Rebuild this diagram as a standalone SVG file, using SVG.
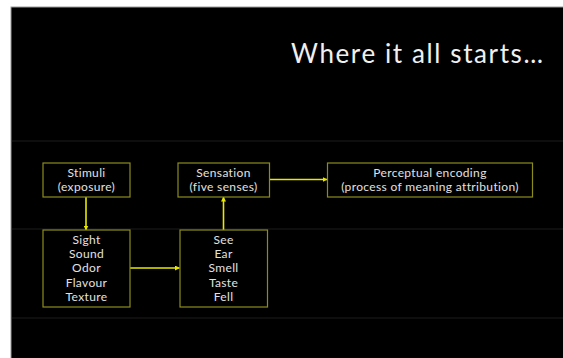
<svg xmlns="http://www.w3.org/2000/svg" width="563" height="358" viewBox="0 0 563 358">
<style>
.box{fill:#000;stroke:#8c8c1e;stroke-width:1.2}
.t{font-family:Lato,"Open Sans",sans-serif;font-size:12px;letter-spacing:0.35px;fill:#e2e2e2;text-anchor:middle}
.c{stroke:#e8e800;stroke-width:1.6;fill:none;marker-end:url(#ah)}
.sep{stroke:#1c1c1c;stroke-width:1}
</style>
<defs>
<marker id="ah" viewBox="0 0 10 10" refX="9" refY="5" markerWidth="5" markerHeight="5" orient="auto" markerUnits="userSpaceOnUse">
<path d="M0,0 L10,5 L0,10 z" fill="#e8e800"/>
</marker>
</defs>
<rect width="563" height="358" fill="#fff"/>
<rect x="11" y="7" width="553" height="352" fill="#000" stroke="#9a9a9a" stroke-width="1"/>
<line class="sep" x1="12" y1="141" x2="563" y2="141"/>
<line class="sep" x1="12" y1="229" x2="563" y2="229"/>
<line class="sep" x1="12" y1="318" x2="563" y2="318"/>
<text x="291" y="63" font-family="Lato,'Open Sans',sans-serif" font-size="26" fill="#f0f0f0" textLength="252" lengthAdjust="spacing">Where it all starts…</text>
<g id="connectors">
<line class="c" x1="86" y1="197" x2="86" y2="230"/>
<line class="c" x1="130" y1="268" x2="179.5" y2="268"/>
<line class="c" x1="223.5" y1="230" x2="223.5" y2="197"/>
<line class="c" x1="269.5" y1="179.5" x2="327" y2="179.5"/>
</g>
<g id="stimuli">
<rect class="box" x="43" y="163" width="87" height="34"/>
<text class="t" x="86.5" y="176.5">Stimuli</text>
<text class="t" x="86.5" y="190.5">(exposure)</text>
</g>
<g id="modalities">
<rect class="box" x="43" y="230" width="87" height="77"/>
<text class="t" x="86.5" y="244">Sight</text>
<text class="t" x="86.5" y="258.3">Sound</text>
<text class="t" x="86.5" y="272.3">Odor</text>
<text class="t" x="86.5" y="286.6">Flavour</text>
<text class="t" x="86.5" y="300.6">Texture</text>
</g>
<g id="senses">
<rect class="box" x="180" y="230" width="87.5" height="77"/>
<text class="t" x="223.5" y="244">See</text>
<text class="t" x="223.5" y="258.3">Ear</text>
<text class="t" x="223.5" y="272.3">Smell</text>
<text class="t" x="223.5" y="286.6">Taste</text>
<text class="t" x="223.5" y="300.6">Fell</text>
</g>
<g id="sensation">
<rect class="box" x="178" y="163" width="91.5" height="34"/>
<text class="t" x="223.5" y="176.5">Sensation</text>
<text class="t" x="223.5" y="190.5">(five senses)</text>
</g>
<g id="perceptual">
<rect class="box" x="327.5" y="163" width="205" height="34"/>
<text class="t" x="430" y="176.5">Perceptual encoding</text>
<text class="t" x="430" y="190.5">(process of meaning attribution)</text>
</g>
</svg>
